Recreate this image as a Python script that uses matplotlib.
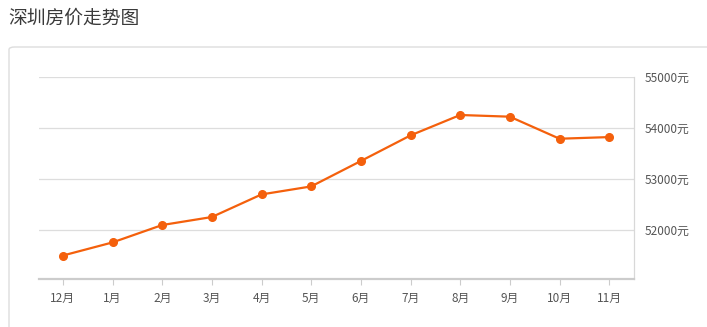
import matplotlib
matplotlib.use("Agg")
import matplotlib.pyplot as plt
from matplotlib.patches import FancyBboxPatch

plt.rcParams['font.family'] = ['Noto Sans CJK SC', 'DejaVu Sans']

# data
months = ['12月', '1月', '2月', '3月', '4月', '5月', '6月', '7月', '8月', '9月', '10月', '11月']
prices = [51500, 51757, 52098, 52255, 52698, 52855, 53353, 53855, 54255, 54222, 53790, 53822]
yticks = [52000, 53000, 54000, 55000]
ytick_labels = ['52000元', '53000元', '54000元', '55000元']

W, H = 707, 327
fig = plt.figure(figsize=(W / 100, H / 100), dpi=100)

# card border behind the plot
card = FancyBboxPatch((9 / W, -0.2), 1.2, 1 - 47 / H + 0.2,
                      boxstyle="round,pad=0,rounding_size=0.008",
                      transform=fig.transFigure, facecolor='white',
                      edgecolor='#dddddd', linewidth=1.0, zorder=-5)
fig.patches.append(card)

fig.text(8 / W, 1 - 18 / H, '深圳房价走势图', fontsize=13.5, color='#3a3a3a',
         ha='left', va='center')

ax = fig.add_axes([39 / W, 1 - 279 / H, (634 - 39) / W, (279 - 77) / H])
ax.set_zorder(5)
ax.set_facecolor('none')

x = list(range(len(months)))
ax.plot(x, prices, color='#f4600c', linewidth=1.6, marker='o', markersize=5.5,
        zorder=3)

ax.set_xlim(-0.48, 11.5)
ax.set_ylim(51040, 55000)
ax.set_xticks(x)
ax.set_xticklabels(months)
ax.set_yticks(yticks)
ax.set_yticklabels(ytick_labels)

ax.yaxis.tick_right()
ax.tick_params(axis='y', length=0, pad=8, labelsize=8.5, labelcolor='#555555')
ax.tick_params(axis='x', length=4, width=0.8, color='#cccccc', pad=5,
               labelsize=8.5, labelcolor='#555555')

ax.grid(axis='y', color='#dddddd', linewidth=0.9)
ax.set_axisbelow(True)

for side in ['left', 'top']:
    ax.spines[side].set_visible(False)
ax.spines['right'].set_color('#d8d8d8')
ax.spines['right'].set_linewidth(0.9)
ax.spines['bottom'].set_color('#cccccc')
ax.spines['bottom'].set_linewidth(1.6)

fig.savefig('out.png', dpi=100)
